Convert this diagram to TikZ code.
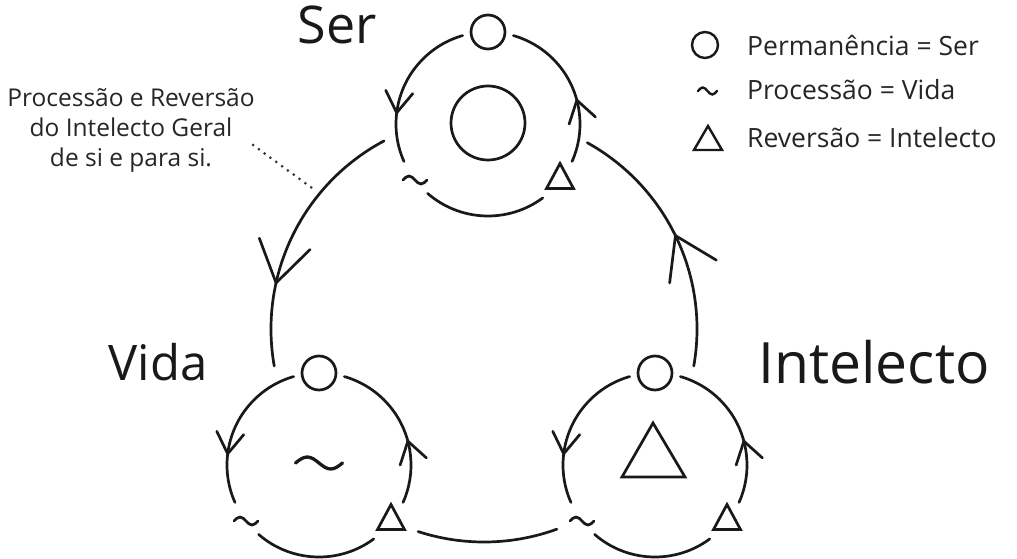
\documentclass[tikz,border=0pt]{standalone}
\usepackage{fontspec}
\setmainfont{Open Sans}
\usetikzlibrary{calc}

% one small cycle: ring with three gaps, a circle on top, a tilde lower left,
% a triangle lower right and two open arrow heads running anticlockwise
\newcommand{\smallcycle}[1]{%
  \begin{scope}[shift={(#1)}]
    \draw[ring] (106:92) arc[start angle=106, end angle=204, radius=92];
    \draw[ring] (229:92) arc[start angle=229, end angle=306.5, radius=92];
    \draw[ring] (-24:92) arc[start angle=-24, end angle=74, radius=92];
    \draw[ring] (0,92) circle[radius=17];
    \draw[ring] (-85,-56) sin ++(6,4) cos ++(6,-4) sin ++(6,-4) cos ++(6,4);
    \draw[ring, line join=miter] (72,-39.5) -- (58.5,-64.5) -- (85.5,-64.5) -- cycle;
    \begin{scope}[rotate=173]
      \draw[ring] (105.6,-21) -- (92,0) -- (78.4,-21);
    \end{scope}
    \begin{scope}[rotate=15]
      \draw[ring] (105.6,-21) -- (92,0) -- (78.4,-21);
    \end{scope}
  \end{scope}}

\begin{document}
\begin{tikzpicture}[x=1pt, y=1pt,
  ring/.style={line width=2.7pt, line cap=round, draw=black!90},
  bigtitle/.style={text=black!90, inner sep=0pt},
  legendtext/.style={font=\fontsize{26.5}{30}\selectfont, text=black!85, anchor=west, inner sep=0pt},
  note/.style={font=\fontsize{24.5}{30}\selectfont, text=black!85, align=center, inner sep=0pt}]
\useasboundingbox (0,0) rectangle (1017,558);
\fill[white] (0,0) rectangle (1017,558);

% centres of the three cycles and of the large circle
\coordinate (ser) at (488,434);
\coordinate (vida) at (319,93);
\coordinate (intel) at (655,93);
\coordinate (big) at (484,229);

% large circle joining the cycles
\draw[ring] ($(big)+(118:213)$) arc[start angle=118, end angle=190, radius=213];
\draw[ring] ($(big)+(-10:213)$) arc[start angle=-10, end angle=61, radius=213];
\draw[ring] ($(big)+(-108:213)$) arc[start angle=-108, end angle=-70, radius=213];
\begin{scope}[shift={(big)}, rotate=167.5]
  \draw[ring] (239,-40) -- (213,0) -- (187,-40);
\end{scope}
\begin{scope}[shift={(big)}, rotate=26]
  \draw[ring] (239,-40) -- (213,0) -- (187,-40);
\end{scope}

% the three cycles
\smallcycle{ser}
\smallcycle{vida}
\smallcycle{intel}

% inner symbols
\draw[ring] ($(ser)+(0,1)$) circle[radius=37];
\draw[ring, line width=3.3pt] ($(vida)+(-23.5,2)$) sin ++(11.75,6) cos ++(11.75,-6) sin ++(11.75,-6) cos ++(11.75,6);
\draw[ring, line join=miter] (653,135) -- (622,81) -- (685,81) -- cycle;

% titles
\node[bigtitle, font=\fontsize{52}{60}\selectfont] (tser) at (337,533) {Ser};
\node[bigtitle, font=\fontsize{49}{60}\selectfont] (tvida) at (158,196) {Vida};
\node[bigtitle, font=\fontsize{57}{60}\selectfont] (tintel) at (874,196) {Intelecto};

% legend
\draw[ring, line width=2.4pt] (705,513) circle[radius=13];
\draw[ring, line width=2.4pt] (698,467) sin ++(4.75,3.5) cos ++(4.75,-3.5) sin ++(4.75,-3.5) cos ++(4.75,3.5);
\draw[ring, line width=2.4pt, line join=miter] (708,432) -- (694,408) -- (722,408) -- cycle;
\node[legendtext] (l1) at (747,513) {Permanência = Ser};
\node[legendtext] (l2) at (747,468) {Processão = Vida};
\node[legendtext] (l3) at (747,420) {Reversão = Intelecto};

% annotation with dotted pointer to the large circle
\node[note] (annot) at (131,428) {Processão e Reversão\\do Intelecto Geral\\de si e para si.};
\coordinate (dotA) at (253,413);
\coordinate (dotB) at (312,370);
\draw[line width=3pt, line cap=round, dash pattern=on 0pt off 7.2pt, black!80] (dotA) -- (dotB);
\end{tikzpicture}
\end{document}
